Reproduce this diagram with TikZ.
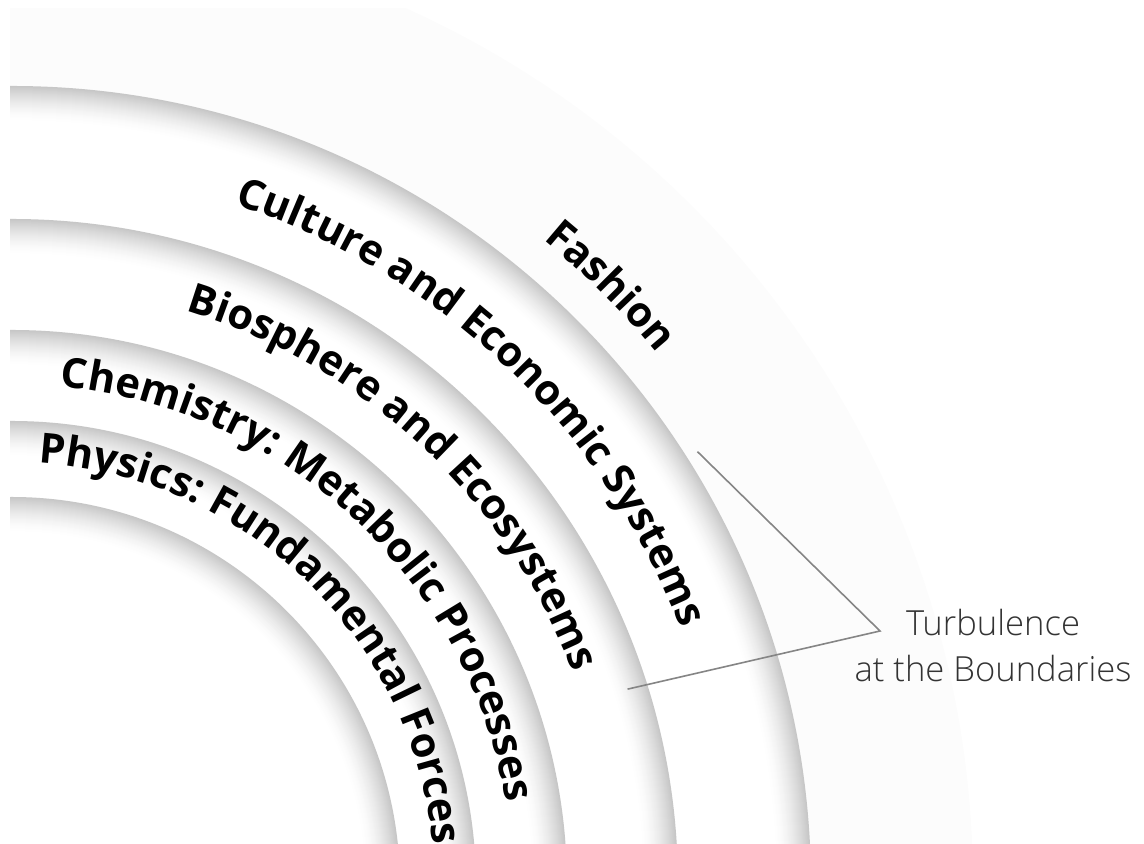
\documentclass[tikz,border=0pt]{standalone}
\usepackage{fontspec}
\setmainfont{Open Sans}
\IfFontExistsTF{Open Sans Light}
  {\newfontfamily\thinfont{Open Sans Light}}
  {\newfontfamily\thinfont{Open Sans}}
\usetikzlibrary{decorations.text}
\definecolor{haze}{HTML}{FCFCFC}
\definecolor{leader}{HTML}{858585}
\definecolor{inkgray}{HTML}{333333}

\begin{document}
\begin{tikzpicture}
  [x=0.5pt,y=0.5pt,
   ringlabel/.style={decorate,decoration={text along path,text align=center,
     text={|\fontsize{20.8}{25}\selectfont\bfseries|#1}}},
   leaderline/.style={draw=leader,line width=0.8pt},
   note/.style={align=center,text=inkgray,font=\thinfont\fontsize{17.3}{23}\selectfont}]
  \useasboundingbox (0,0) rectangle (1144,844);
  \coordinate (c) at (12,-41);

  \begin{scope}
    \clip (10,0) rectangle (1144,835);
    \fill[haze] (c) circle (961);
    % discs from the outside in, each one darker at its rim
    \foreach \r in {799,666,555,464,388} {
      \foreach \k in {0,...,34} {
        \pgfmathsetmacro\shadeamt{22*(1-\k/35)^1.6}
        \fill[black!\shadeamt] (c) circle ({\r-\k});
      }
      \fill[white] (c) circle ({\r-35});
    }
  \end{scope}

  \path[ringlabel={Physics: Fundamental Forces}]
    (c) ++(85.6:423) arc[start angle=85.6,end angle=6.2,radius=423];
  \path[ringlabel={Chemistry: Metabolic Processes}]
    (c) ++(84.5:501) arc[start angle=84.5,end angle=9.5,radius=501];
  \path[ringlabel={Biosphere and Ecosystems}]
    (c) ++(73.2:600) arc[start angle=73.2,end angle=20.7,radius=600];
  \path[ringlabel={Culture and Economic Systems}]
    (c) ++(72.2:716) arc[start angle=72.2,end angle=20.7,radius=716];
  \path[ringlabel={Fashion}]
    (c) ++(51:836) arc[start angle=51,end angle=39,radius=836];

  \node[note] (turb) at (993,198) {Turbulence\\at the Boundaries};
  \coordinate (tip) at (880,213);
  \path (c) ++(32.3:811) coordinate (outerend);
  \path (c) ++(17.65:646) coordinate (innerend);
  \draw[leaderline] (outerend) -- (tip) -- (innerend);
\end{tikzpicture}
\end{document}
